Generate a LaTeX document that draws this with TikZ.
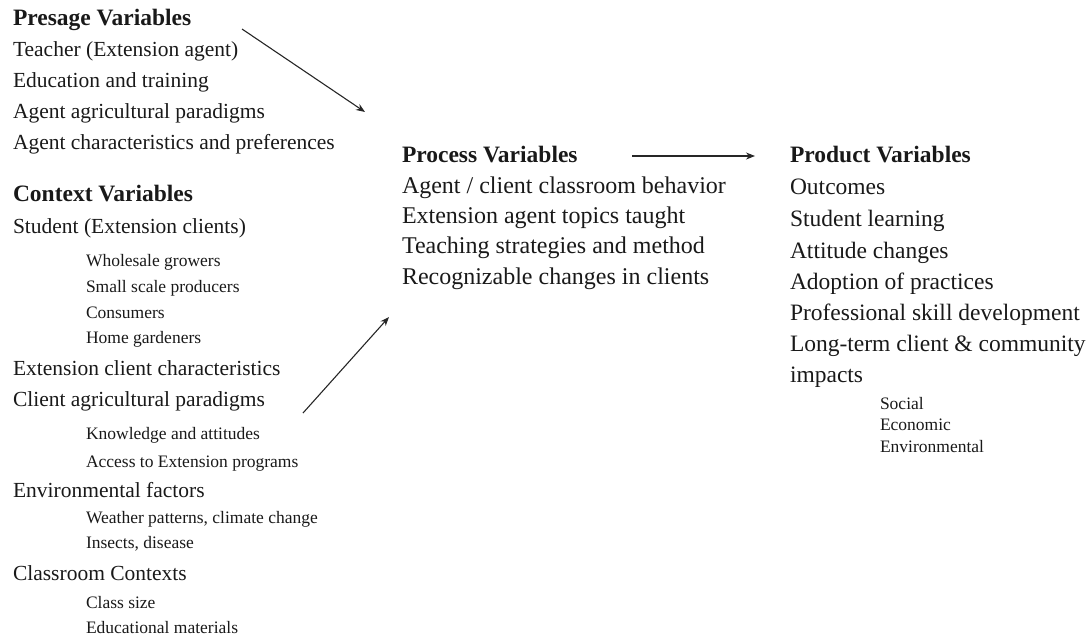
\documentclass[tikz,border=0pt]{standalone}
\usepackage{fontspec}
\setmainfont{Liberation Serif}
\usetikzlibrary{arrows.meta}
\tikzset{
  txt/.style={anchor=base west, inner sep=0pt, outer sep=0pt, text=black!90},
  headL/.style={txt, font=\fontsize{23.5}{25}\selectfont\bfseries},
  bodyL/.style={txt, font=\fontsize{21.5}{24}\selectfont},
  bodyM/.style={txt, font=\fontsize{24}{26}\selectfont},
  bodyR/.style={txt, font=\fontsize{23.5}{26}\selectfont},
  small/.style={txt, font=\fontsize{17.5}{20}\selectfont},
  conn/.style={line width=1.1pt, black!85, -{Stealth[length=9pt,width=7pt]}}
}
\begin{document}
\begin{tikzpicture}[x=1pt,y=-1pt]
\useasboundingbox (0,0) rectangle (1091,638);
% left column
\node[headL] (presT) at (13,25) {Presage Variables};
\node[bodyL] (p1) at (13,56) {Teacher (Extension agent)};
\node[bodyL] (p2) at (13,87) {Education and training};
\node[bodyL] (p3) at (13,118) {Agent agricultural paradigms};
\node[bodyL] (p4) at (13,149) {Agent characteristics and preferences};
\node[headL] (ctxT) at (13,201) {Context Variables};
\node[bodyL] (c1) at (13,233) {Student (Extension clients)};
\node[small] (c1a) at (86,266) {Wholesale growers};
\node[small] (c1b) at (86,292) {Small scale producers};
\node[small] (c1c) at (86,318) {Consumers};
\node[small] (c1d) at (86,343) {Home gardeners};
\node[bodyL] (c2) at (13,375) {Extension client characteristics};
\node[bodyL] (c3) at (13,406) {Client agricultural paradigms};
\node[small] (c3a) at (86,439) {Knowledge and attitudes};
\node[small] (c3b) at (86,467) {Access to Extension programs};
\node[bodyL] (c4) at (13,497) {Environmental factors};
\node[small] (c4a) at (86,523) {Weather patterns, climate change};
\node[small] (c4b) at (86,548) {Insects, disease};
\node[bodyL] (c5) at (13,580) {Classroom Contexts};
\node[small] (c5a) at (86,608) {Class size};
\node[small] (c5b) at (86,633) {Educational materials};
% middle column
\node[headL] (procT) at (402,162) {Process Variables};
\node[bodyM] (m1) at (402,193) {Agent / client classroom behavior};
\node[bodyM] (m2) at (402,223) {Extension agent topics taught};
\node[bodyM] (m3) at (402,253) {Teaching strategies and method};
\node[bodyM] (m4) at (402,284) {Recognizable changes in clients};
% right column
\node[headL] (prodT) at (790,162) {Product Variables};
\node[bodyR] (r1) at (790,194) {Outcomes};
\node[bodyR] (r2) at (790,226) {Student learning};
\node[bodyR] (r3) at (790,258) {Attitude changes};
\node[bodyR] (r4) at (790,289) {Adoption of practices};
\node[bodyR] (r5) at (790,320) {Professional skill development};
\node[bodyR] (r6) at (790,351) {Long-term client \& community};
\node[bodyR] (r7) at (790,382) {impacts};
\node[small] (r7a) at (880,409) {Social};
\node[small] (r7b) at (880,430) {Economic};
\node[small] (r7c) at (880,452) {Environmental};
% arrows
\coordinate (a1s) at (242,29);
\coordinate (a1e) at (365,112);
\coordinate (a2s) at (632,156);
\coordinate (a2e) at (755,156);
\coordinate (a3s) at (303,413);
\coordinate (a3e) at (389,317);
\draw[conn] (a1s) -- (a1e);
\draw[conn] (a2s) -- (a2e);
\draw[conn] (a3s) -- (a3e);
\end{tikzpicture}
\end{document}
